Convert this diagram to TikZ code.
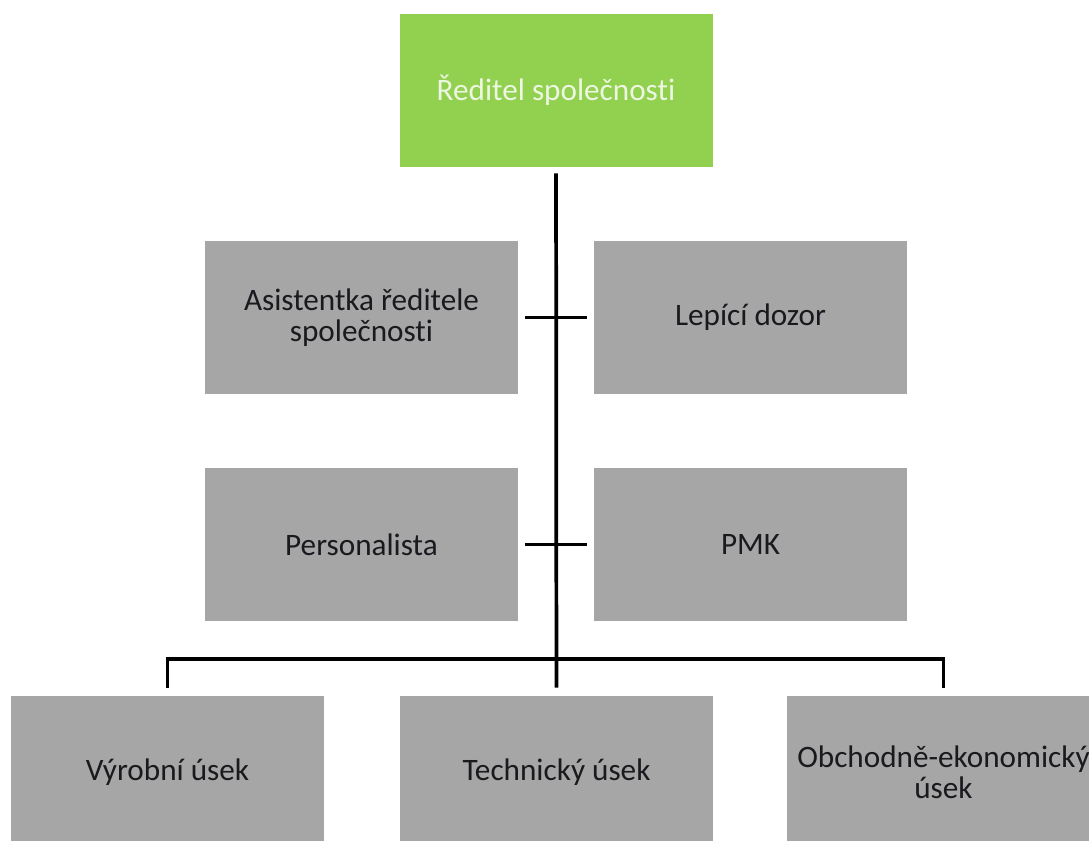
\documentclass[tikz,border=0pt]{standalone}
\usepackage{fontspec}
\setmainfont{Carlito}[Ligatures={NoCommon}]
\usepackage{xcolor}
\usepackage{tikz}
\usetikzlibrary{positioning, calc}
\definecolor{boss}{RGB}{146, 208, 80}
\definecolor{unit}{RGB}{166, 166, 166}
\definecolor{bosstext}{RGB}{236, 246, 224}
\definecolor{unittext}{RGB}{25, 25, 30}
\tikzstyle{head} = [rectangle, minimum width=234.75pt, minimum height=114.75pt, inner sep=0pt, align=center, fill=boss, text=bosstext, font=\fontsize{23.4}{23.5}\selectfont]
\tikzstyle{dept} = [rectangle, minimum width=234.75pt, minimum height=114.75pt, inner sep=0pt, align=center, fill=unit, text=unittext, font=\fontsize{23.4}{23.5}\selectfont]
\tikzstyle{conn} = [line width=2.8pt, black]

\begin{document}
\begin{tikzpicture}[x=0.75pt, y=-0.75pt]
    \useasboundingbox (0,0) rectangle (1089,841);
    \clip (0,0) rectangle (1089,841);

    % Director
    \node[head] (reditel) at (556, 90.5) {Ředitel společnosti};

    % Staff
    \node[dept] (asist) at (361.5, 317.5) {Asistentka ředitele\\společnosti};
    \node[dept] (lepici) at (750.5, 317.5) {Lepící dozor};
    \node[dept] (personal) at (361.5, 544.5) {Personalista};
    \node[dept] (pmk) at (750.5, 544.5) {PMK};

    % Divisions
    \node[dept] (vyrob) at (167.5, 772.5) {Výrobní úsek};
    \node[dept] (tech) at (556.5, 772.5) {Technický úsek};
    \node[dept] (obchod) at (943.5, 772.5) {Obchodně-ekonomický\\úsek};

    % Connections
    \coordinate (bar) at (556.5, 659);
    \draw[conn, shorten <=4.5pt, shorten >=6pt] (reditel) -- (tech);
    \draw[conn, shorten <=5pt, shorten >=5pt] (asist) -- (lepici);
    \draw[conn, shorten <=5pt, shorten >=5pt] (personal) -- (pmk);
    \draw[conn, shorten >=6pt] (bar) -| (vyrob);
    \draw[conn, shorten >=6pt] (bar) -| (obchod);
\end{tikzpicture}
\end{document}
